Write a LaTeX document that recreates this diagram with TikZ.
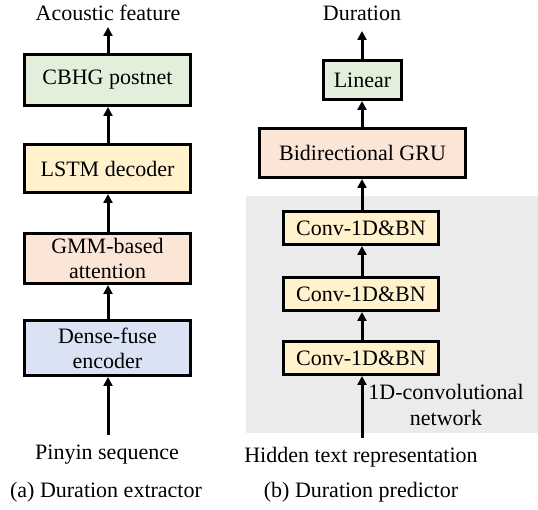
\documentclass[tikz,border=0pt]{standalone}
\usepackage{fontspec}
\setmainfont{Liberation Serif}
\usetikzlibrary{arrows.meta}
\definecolor{cgreen}{HTML}{E2EFDA}
\definecolor{cyellow}{HTML}{FFF2CC}
\definecolor{corange}{HTML}{FBE5D6}
\definecolor{cblue}{HTML}{DAE3F3}
\definecolor{cgray}{HTML}{EBEBEB}
\tikzset{
  blk/.style={draw=black, line width=3pt, rectangle, inner sep=0pt, align=center,
    font=\fontsize{22}{25}\selectfont},
  lbl/.style={inner sep=0pt, align=center, font=\fontsize{22}{26}\selectfont},
  arr/.style={line width=3pt, -{Triangle[width=9pt,length=9pt]}},
}
\begin{document}
\begin{tikzpicture}[x=1pt,y=-1pt]
\useasboundingbox (0,0) rectangle (538,510);
\fill[cgray] (246,196) rectangle (538,433);
% left column
\node[blk, fill=cgreen, minimum width=166pt, minimum height=51pt] (cbhg) at (107.5,80) {CBHG postnet};
\node[blk, fill=cyellow, minimum width=166pt, minimum height=48pt] (lstm) at (107.5,168.5) {LSTM decoder};
\node[blk, fill=corange, minimum width=166pt, minimum height=50pt] (gmm) at (107.5,258.5) {GMM-based\\attention};
\node[blk, fill=cblue, minimum width=166pt, minimum height=55pt] (dense) at (107.5,348) {Dense-fuse\\encoder};
\node[lbl] (acous) at (108,13) {Acoustic feature};
\coordinate (acoustip) at (108,27);
\node[lbl] (pinyin) at (107,455) {Pinyin sequence};
\coordinate (pinyinsrc) at (108,435);
\node[lbl] (capa) at (106,492) {(a) Duration extractor};
\draw[arr] (pinyinsrc) -- (dense.south -| pinyinsrc);
\draw[arr] (dense.north -| pinyinsrc) -- (gmm.south -| pinyinsrc);
\draw[arr] (gmm.north -| pinyinsrc) -- (lstm.south -| pinyinsrc);
\draw[arr] (lstm.north -| pinyinsrc) -- (cbhg.south -| pinyinsrc);
\draw[arr] (cbhg.north -| pinyinsrc) -- (acoustip);
% right column
\node[blk, fill=cgreen, minimum width=78pt, minimum height=39pt] (lin) at (362.5,80) {Linear};
\node[blk, fill=corange, minimum width=206pt, minimum height=49pt] (gru) at (362.5,153) {Bidirectional GRU};
\node[blk, fill=cyellow, minimum width=155pt, minimum height=33pt] (conv1) at (361,228) {Conv-1D\&BN};
\node[blk, fill=cyellow, minimum width=155pt, minimum height=33pt] (conv2) at (361,294) {Conv-1D\&BN};
\node[blk, fill=cyellow, minimum width=155pt, minimum height=33pt] (conv3) at (361,358) {Conv-1D\&BN};
\node[lbl] (dur) at (362,13) {Duration};
\coordinate (durtip) at (362,31);
\node[lbl] (hidden) at (361,457) {Hidden text representation};
\coordinate (hidsrc) at (362,438);
\node[lbl] (convnet) at (446,405) {1D-convolutional\\network};
\node[lbl] (capb) at (361,492) {(b) Duration predictor};
\draw[arr] (hidsrc) -- (conv3.south -| hidsrc);
\draw[arr] (conv3.north -| hidsrc) -- (conv2.south -| hidsrc);
\draw[arr] (conv2.north -| hidsrc) -- (conv1.south -| hidsrc);
\draw[arr] (conv1.north -| hidsrc) -- (gru.south -| hidsrc);
\draw[arr] (gru.north -| hidsrc) -- (lin.south -| hidsrc);
\draw[arr] (lin.north -| hidsrc) -- (durtip);
\end{tikzpicture}
\end{document}
